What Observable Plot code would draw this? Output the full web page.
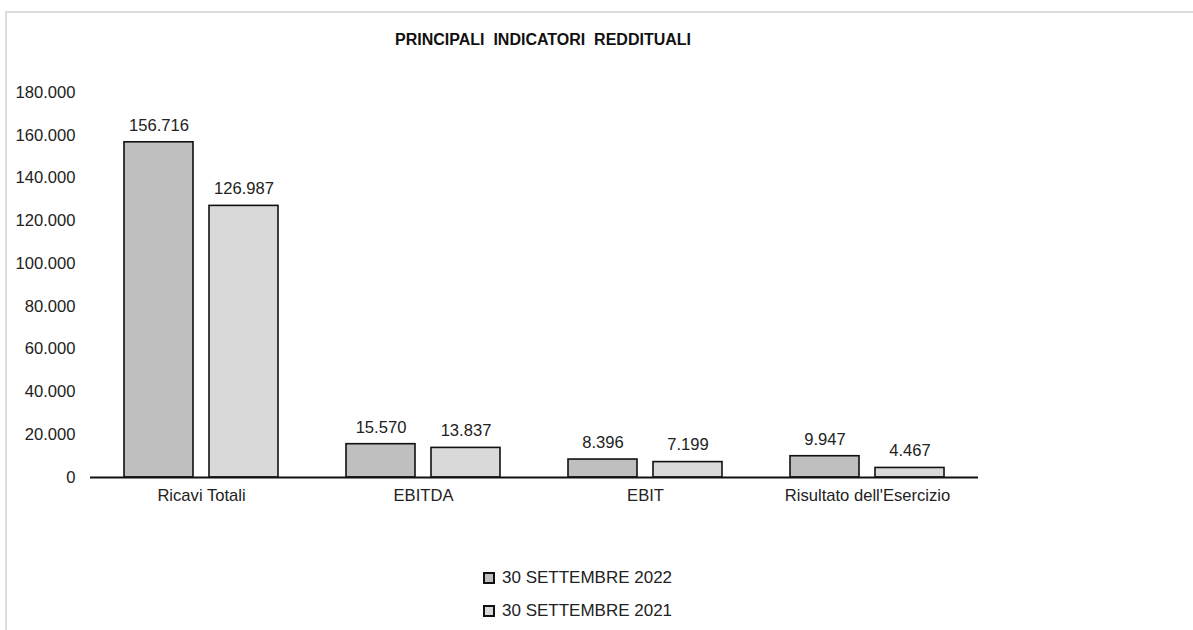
<!DOCTYPE html>
<html>
<head>
<meta charset="utf-8">
<script src="https://cdn.jsdelivr.net/npm/d3@7"></script>
<script src="https://cdn.jsdelivr.net/npm/@observablehq/plot@0.6"></script>
<style>
  html, body { margin: 0; padding: 0; background: #fff; }
  body { width: 1193px; height: 630px; overflow: hidden; position: relative; font-family: "Liberation Sans", Arial, sans-serif; color: #222; }
  #frame { position: absolute; left: 5px; top: 11px; width: 1220px; height: 700px; border: 2px solid #dcdcdc; box-sizing: border-box; }
  #title { position: absolute; left: 0; width: 1086px; top: 31px; text-align: center; font-weight: bold; font-size: 16px; white-space: pre; color: #111; }
  #chart { position: absolute; left: 0; top: 0; }
  .leg { position: absolute; left: 483px; font-size: 17px; display: flex; align-items: center; white-space: nowrap; }
  .sw { width: 8px; height: 8px; border: 2px solid #111; margin-right: 7px; }
</style>
</head>
<body>
<div id="frame"></div>
<div id="title">PRINCIPALI  INDICATORI  REDDITUALI</div>
<div id="chart"></div>
<div id="legend"></div>
<script>
const categories = ["Ricavi Totali", "EBITDA", "EBIT", "Risultato dell'Esercizio"];
const seriesNames = ["30 SETTEMBRE 2022", "30 SETTEMBRE 2021"];
const values2022 = [156716, 15570, 8396, 9947];
const values2021 = [126987, 13837, 7199, 4467];
const seriesColors = ["#bfbfbf", "#d9d9d9"];
const yTicks = [0, 20000, 40000, 60000, 80000, 100000, 120000, 140000, 160000, 180000];

const it = d3.formatLocale({decimal: ",", thousands: ".", grouping: [3], currency: ["€", ""]});
const fmt = it.format(",d");

const data = categories.flatMap((c, i) => [
  {category: c, series: seriesNames[0], value: values2022[i]},
  {category: c, series: seriesNames[1], value: values2021[i]}
]);

const chart = Plot.plot({
  width: 1193,
  height: 520,
  marginTop: 92,
  marginBottom: 43,
  marginLeft: 90,
  marginRight: 215,
  style: {fontFamily: "'Liberation Sans', Arial, sans-serif", fontSize: "16.6px", color: "#222", background: "transparent"},
  fx: {domain: categories, padding: 0, label: null, axis: "bottom", tickSize: 0, tickPadding: 12},
  x: {domain: seriesNames, paddingInner: 0.19, paddingOuter: 0.4, axis: null},
  y: {domain: [0, 180000], ticks: yTicks, tickFormat: fmt, tickSize: 0, tickPadding: 15, label: null},
  color: {domain: seriesNames, range: seriesColors},
  marks: [
    Plot.barY(data, {fx: "category", x: "series", y: "value", fill: "series", stroke: "#111", strokeWidth: 1.6}),
    Plot.text(data, {fx: "category", x: "series", y: "value", text: d => fmt(d.value), dy: -17, fontSize: 16.6, fill: "#222"}),
    Plot.ruleY([0], {stroke: "#111", strokeWidth: 2})
  ]
});
document.getElementById("chart").appendChild(chart);

const legend = document.getElementById("legend");
seriesNames.forEach((s, i) => {
  const row = document.createElement("div");
  row.className = "leg";
  row.style.top = (568 + i * 33) + "px";
  const sw = document.createElement("span");
  sw.className = "sw";
  sw.style.background = seriesColors[i];
  row.appendChild(sw);
  const t = document.createElement("span");
  t.textContent = s;
  row.appendChild(t);
  legend.appendChild(row);
});
</script>
</body>
</html>
